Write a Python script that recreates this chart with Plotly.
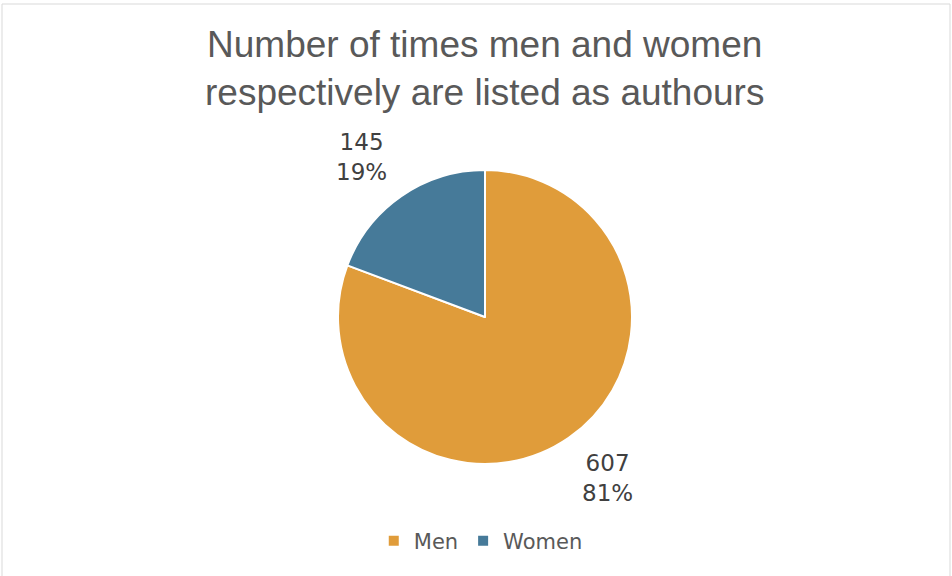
import plotly.graph_objects as go

labels = ["Men", "Women"]
values = [607, 145]
colors = ["#E09C3A", "#467A99"]

W, H = 952, 576
total = sum(values)
pcts = [round(v / total * 100) for v in values]

fig = go.Figure()
fig.add_trace(go.Pie(
    labels=labels,
    values=values,
    sort=False,
    direction="clockwise",
    rotation=0,
    marker=dict(colors=colors, line=dict(color="white", width=2)),
    textinfo="none",
    hoverinfo="label+value+percent",
    domain=dict(x=[338 / W, 632 / W], y=[1 - 464 / H, 1 - 170 / H]),
))

label_pos = {"Men": (607, 478), "Women": (361, 157)}
for lab, v, p in zip(labels, values, pcts):
    x, y = label_pos[lab]
    fig.add_annotation(
        x=x / W, y=1 - y / H, xref="paper", yref="paper",
        xanchor="center", yanchor="middle",
        text=f"{v}<br>{p}%", showarrow=False,
        font=dict(family="DejaVu Sans", size=23, color="#404040"),
        align="center",
    )

fig.add_annotation(
    x=485 / W, y=1 - 68 / H, xref="paper", yref="paper",
    xanchor="center", yanchor="middle",
    text="Number of times men and women<br>respectively are listed as authours",
    showarrow=False,
    font=dict(family="Liberation Sans, Arial", size=37, color="#595959"),
    align="center",
)

fig.add_shape(type="rect", xref="paper", yref="paper",
              x0=2 / W, x1=950 / W, y0=-0.01, y1=1 - 4 / H,
              line=dict(color="#D9D9D9", width=1))

fig.update_layout(
    width=W, height=H,
    margin=dict(l=0, r=0, t=0, b=0),
    paper_bgcolor="white",
    plot_bgcolor="white",
    showlegend=True,
    legend=dict(
        orientation="h", x=0.505, xanchor="center", y=1 - 541 / H, yanchor="middle",
        font=dict(family="DejaVu Sans", size=21, color="#595959"),
        itemsizing="constant",
    ),
)

fig.write_html("out.html", config={"displayModeBar": False},
               post_script="document.body.style.margin='0';")
